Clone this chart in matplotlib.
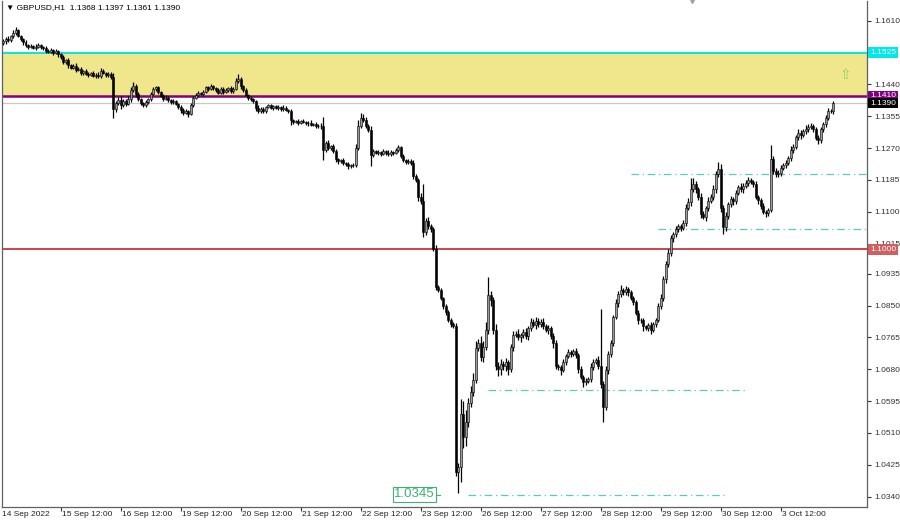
import matplotlib
matplotlib.use('Agg')
import matplotlib.pyplot as plt
import matplotlib.transforms as mtransforms
import numpy as np

plt.rcParams['font.family'] = ['Liberation Sans', 'DejaVu Sans']

# GBPUSD H1, prices in pips (x 1e-4)
close = [11555, 11562, 11558, 11568, 11578, 11584, 11570, 11560, 11552, 11545, 11540, 11542,
         11538, 11541, 11545, 11540, 11536, 11530, 11527, 11532, 11525, 11528, 11520, 11512,
         11500, 11505, 11492, 11485, 11490, 11478, 11482, 11470, 11475, 11468, 11466, 11470,
         11463, 11466, 11462, 11476, 11470, 11465, 11468, 11460, 11375, 11390, 11398, 11385,
         11395, 11388, 11400, 11425, 11436, 11415, 11400, 11390, 11385, 11392, 11400, 11415,
         11428, 11432, 11420, 11410, 11402, 11405, 11398, 11393, 11395, 11388, 11380, 11372,
         11365, 11368, 11362, 11385, 11404, 11412, 11418, 11415, 11420, 11432, 11428, 11435,
         11430, 11425, 11418, 11428, 11420, 11425, 11430, 11422, 11428, 11448, 11455, 11435,
         11425, 11412, 11405, 11400, 11395, 11378, 11370, 11375, 11368, 11380, 11384, 11378,
         11382, 11377, 11380, 11375, 11378, 11372, 11370, 11345, 11340, 11343, 11338, 11342,
         11340, 11336, 11338, 11332, 11335, 11328, 11330, 11330, 11265, 11285, 11270, 11275,
         11262, 11240, 11235, 11238, 11230, 11228, 11222, 11226, 11225, 11270, 11330, 11350,
         11345, 11330, 11318, 11252, 11262, 11258, 11260, 11255, 11262, 11258, 11254, 11260,
         11258, 11265, 11272, 11250, 11238, 11233, 11236, 11230, 11195, 11185, 11140, 11130,
         11045, 11075, 11062, 11055, 11002, 10900, 10892, 10870, 10848, 10832, 10812, 10800,
         10795, 10405, 10420, 10560, 10500, 10540, 10590, 10620, 10651, 10738, 10750, 10712,
         10740, 10785, 10878, 10865, 10785, 10690, 10680, 10695, 10688, 10700, 10680, 10740,
         10771, 10775, 10765, 10772, 10780, 10768, 10790, 10805, 10798, 10810, 10800, 10806,
         10795, 10785, 10790, 10770, 10750, 10690, 10686, 10678, 10700, 10715, 10726, 10720,
         10728, 10718, 10680, 10660, 10646, 10650, 10655, 10686, 10700, 10705, 10690, 10640,
         10580, 10678, 10720, 10750, 10820, 10857, 10880, 10892, 10885, 10895, 10885, 10870,
         10860, 10830, 10812, 10811, 10795, 10790, 10798, 10785, 10800, 10811, 10850, 10870,
         10920, 10960, 10990, 11030, 11040, 11055, 11062, 11058, 11070, 11110, 11125, 11160,
         11175, 11160, 11140, 11095, 11086, 11110, 11130, 11139, 11160, 11200, 11215, 11110,
         11060, 11090, 11120, 11135, 11128, 11150, 11166, 11160, 11170, 11178, 11185, 11180,
         11175, 11140, 11131, 11115, 11100, 11097, 11105, 11240, 11210, 11200, 11205, 11217,
         11225, 11230, 11245, 11265, 11273, 11300, 11310, 11305, 11315, 11322, 11326, 11330,
         11320, 11298, 11292, 11320, 11335, 11350, 11370, 11368, 11390]

# wick length above / below the body, pips
wick_up = [6, 4, 8, 5, 6, 8, 4, 3, 5, 6, 4, 5,
           3, 6, 5, 4, 3, 7, 4, 5, 3, 6, 4, 5,
           6, 4, 5, 3, 4, 8, 4, 5, 3, 6, 4, 3,
           5, 4, 6, 8, 4, 3, 5, 4, 10, 6, 8, 12,
           5, 6, 8, 7, 10, 4, 6, 5, 3, 6, 4, 5,
           6, 5, 4, 3, 5, 6, 4, 3, 5, 4, 3, 5,
           4, 6, 3, 5, 6, 4, 5, 3, 6, 4, 5, 6,
           4, 3, 5, 6, 4, 5, 3, 6, 4, 8, 12, 5,
           4, 6, 3, 5, 4, 3, 6, 4, 5, 3, 4, 5,
           3, 4, 5, 3, 6, 4, 3, 5, 4, 3, 6, 4,
           5, 3, 4, 6, 3, 5, 4, 6, 23, 5, 8, 4,
           6, 5, 4, 3, 5, 4, 6, 3, 5, 10, 14, 13,
           12, 8, 5, 10, 5, 4, 6, 3, 5, 4, 6, 4,
           3, 5, 6, 4, 5, 3, 6, 4, 8, 5, 6, 10,
           45, 8, 12, 6, 5, 10, 6, 5, 4, 6, 5, 4,
           6, 8, 10, 40, 35, 30, 12, 15, 20, 18, 12, 20,
           15, 20, 48, 10, 8, 15, 10, 12, 8, 10, 6, 8,
           10, 8, 12, 6, 8, 10, 6, 12, 8, 10, 6, 8,
           10, 6, 8, 5, 6, 8, 5, 6, 8, 6, 8, 5,
           6, 8, 5, 10, 6, 8, 5, 10, 8, 6, 10, 150,
           8, 12, 10, 8, 6, 10, 8, 12, 6, 8, 5, 6,
           5, 6, 8, 5, 6, 4, 6, 8, 5, 6, 8, 10,
           8, 10, 12, 8, 6, 8, 5, 6, 8, 10, 12, 30,
           15, 8, 6, 10, 8, 6, 10, 8, 12, 10, 17, 12,
           8, 10, 6, 8, 5, 8, 6, 10, 8, 6, 8, 5,
           6, 8, 5, 6, 8, 6, 5, 38, 10, 8, 6, 8,
           6, 8, 5, 10, 8, 6, 12, 8, 6, 10, 8, 6,
           5, 6, 8, 6, 5, 8, 6, 5, 7]
wick_dn = [5, 6, 4, 5, 3, 6, 4, 5, 6, 4, 5, 3,
           4, 5, 3, 6, 4, 5, 3, 4, 6, 5, 8, 4,
           6, 5, 8, 4, 5, 6, 3, 5, 4, 3, 5, 4,
           3, 5, 4, 6, 3, 5, 4, 6, 25, 8, 5, 10,
           6, 5, 4, 6, 5, 8, 4, 6, 5, 4, 3, 5,
           4, 5, 6, 4, 5, 3, 6, 4, 5, 3, 6, 8,
           6, 5, 8, 4, 5, 3, 6, 4, 5, 3, 6, 4,
           5, 6, 4, 3, 5, 4, 6, 5, 4, 3, 5, 6,
           5, 4, 6, 5, 4, 8, 5, 6, 4, 5, 3, 4,
           5, 3, 4, 6, 5, 4, 6, 12, 5, 4, 6, 3,
           4, 5, 6, 4, 3, 5, 4, 8, 27, 6, 4, 5,
           5, 8, 6, 4, 6, 5, 8, 4, 5, 6, 4, 5,
           4, 6, 5, 30, 6, 4, 5, 6, 4, 5, 6, 4,
           5, 4, 6, 5, 4, 6, 5, 4, 8, 6, 10, 8,
           12, 6, 8, 10, 6, 8, 5, 6, 8, 6, 5, 8,
           6, 10, 55, 40, 30, 25, 15, 10, 12, 8, 10, 10,
           12, 8, 10, 15, 10, 12, 18, 15, 10, 12, 15, 8,
           10, 6, 8, 12, 8, 6, 10, 8, 6, 10, 8, 6,
           8, 6, 10, 8, 12, 10, 8, 12, 6, 8, 5, 6,
           5, 8, 10, 6, 12, 8, 6, 10, 8, 6, 8, 10,
           41, 8, 10, 6, 8, 6, 10, 8, 6, 8, 10, 6,
           8, 6, 10, 8, 12, 6, 8, 10, 6, 8, 6, 8,
           8, 10, 6, 8, 10, 6, 8, 10, 6, 8, 6, 10,
           8, 10, 8, 12, 6, 10, 8, 6, 8, 10, 6, 10,
           18, 10, 8, 6, 10, 8, 6, 8, 10, 6, 8, 6,
           8, 6, 10, 8, 6, 12, 8, 6, 10, 8, 6, 8,
           6, 8, 6, 10, 8, 6, 8, 10, 6, 8, 10, 6,
           8, 6, 10, 8, 6, 8, 6, 5, 7]

first_open = 11550

price_ticks = [1.1610, 1.1525, 1.1440, 1.1355, 1.1270, 1.1185, 1.1100, 1.1015,
               1.0935, 1.0850, 1.0765, 1.0680, 1.0595, 1.0510, 1.0425, 1.0340]
time_labels = ['15 Sep 12:00', '16 Sep 12:00', '19 Sep 12:00', '20 Sep 12:00',
               '21 Sep 12:00', '22 Sep 12:00', '23 Sep 12:00', '26 Sep 12:00',
               '27 Sep 12:00', '28 Sep 12:00', '29 Sep 12:00', '30 Sep 12:00',
               '3 Oct 12:00']
time_bars = [23 + 24 * k for k in range(len(time_labels))]

zone_top, zone_bot = 1.1525, 1.1410
bid = 1.1390
level_red = 1.1000
# dash-dot levels: (price, first bar, last bar)
dashed = [(1.1200, 251, 346), (1.1055, 262, 346), (1.0625, 194, 297), (1.0345, 186, 290)]

n = min(len(close), len(wick_up), len(wick_dn))
c = np.array(close[:n]) / 10000.0
o = np.concatenate([[first_open / 10000.0], c[:-1]])
hi = np.maximum(o, c) + np.array(wick_up[:n]) / 10000.0
lo = np.minimum(o, c) - np.array(wick_dn[:n]) / 10000.0
x = np.arange(n)

fig = plt.figure(figsize=(9, 5.21), dpi=100)
ax = fig.add_axes([2 / 900, 14 / 521, 865 / 900, 506 / 521])
ax.set_xlim(-0.4, 345.6)
ax.set_ylim(1.03125, 1.16626)

ax.axhspan(zone_bot, zone_top, color='#f0e68c', zorder=0)
ax.axhline(zone_top, color='#00e8e8', lw=1.4, zorder=1)
ax.axhline(bid, color='#c8c8c8', lw=0.9, zorder=1)
ax.axhline(zone_bot, color='#800080', lw=1.8, zorder=1)
ax.axhline(level_red, color='#c84646', lw=1.4, zorder=1)
for p, b0, b1 in dashed:
    ax.plot([b0, b1], [p, p], color='#5cc8c0', lw=0.9, ls=(0, (6, 3, 1, 3)), zorder=1)

# candles
up = c >= o
ax.vlines(x, lo, hi, color='black', lw=0.9, zorder=2)
ax.bar(x[up], (c - o)[up], bottom=o[up], width=0.8, color='#9a9a9a',
       edgecolor='black', linewidth=0.4, zorder=3)
ax.bar(x[~up], (o - c)[~up], bottom=c[~up], width=0.8, color='black',
       edgecolor='black', linewidth=0.4, zorder=3)

# axes
ax.spines['top'].set_visible(False)
for s in ['left', 'right', 'bottom']:
    ax.spines[s].set_color('#606060')
    ax.spines[s].set_linewidth(0.9)
ax.yaxis.tick_right()
ax.set_yticks(price_ticks)
ax.set_yticklabels(['' if abs(t - zone_top) < 1e-6 else '%.4f' % t for t in price_ticks],
                   fontsize=6)
ax.tick_params(axis='y', direction='out', length=3, width=0.8, pad=2, colors='#333333')
ax.set_xticks(time_bars)
ax.set_xticklabels([])
ax.tick_params(axis='x', direction='out', length=3, width=0.8, colors='#333333')
trans = mtransforms.blended_transform_factory(ax.transData, ax.transAxes)
ax.text(-0.3, -0.0155, '14 Sep 2022', transform=trans, fontsize=6, ha='left', va='center',
        color='#222222')
for b, lab in zip(time_bars, time_labels):
    ax.text(b + 0.6, -0.0155, lab, transform=trans, fontsize=6, ha='left', va='center',
            color='#222222')

# price labels on the scale
ytrans = mtransforms.blended_transform_factory(ax.transAxes, ax.transData)
for p, fc in [(zone_top, '#00e8e8'), (zone_bot, '#800080'), (bid, 'black'), (level_red, '#d06060')]:
    ax.text(1.0035, p, '%.4f' % p, transform=ytrans, fontsize=6, color='white',
            ha='left', va='center', clip_on=False, zorder=5,
            bbox=dict(boxstyle='square,pad=0.2', fc=fc, ec='none'))

ax.text(337, 1.1465, '\u21e7', fontsize=10, color='#8fd46a', ha='center', va='center',
        family='DejaVu Sans')
ax.text(0.005, 0.993, '\u25bc GBPUSD,H1  1.1368 1.1397 1.1361 1.1390', transform=ax.transAxes,
        fontsize=6, ha='left', va='top', family=['Liberation Sans', 'DejaVu Sans'])
ax.text(172.6, 1.0346, '1.0345', fontsize=9.5, color='#3cb371', ha='right', va='center',
        bbox=dict(boxstyle='square,pad=0.1', fc='white', ec='#3cb371', lw=0.8))
ax.plot([172.9, 174.8], [1.0345, 1.0345], color='#3cb371', lw=0.8)
ax.plot([275.6], [1.1665], marker='v', color='#a0a0a0', markersize=4, clip_on=False)

plt.savefig('out.png', dpi=100)
